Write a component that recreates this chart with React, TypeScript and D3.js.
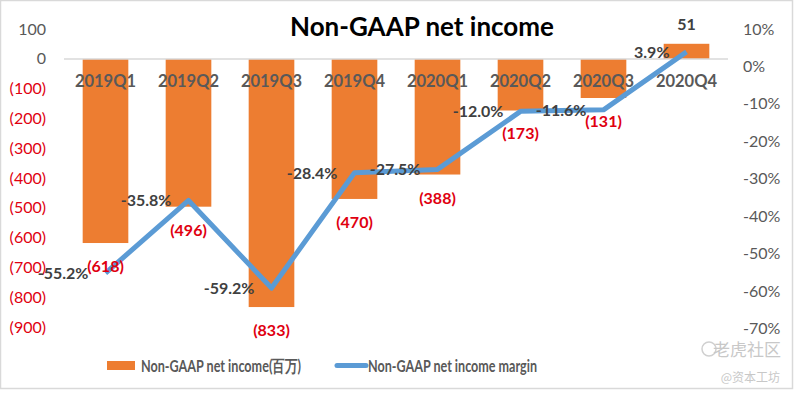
import React from "react";
import * as d3 from "d3";

const categories = ["2019Q1", "2019Q2", "2019Q3", "2019Q4", "2020Q1", "2020Q2", "2020Q3", "2020Q4"];
const netIncome = [-618, -496, -833, -470, -388, -173, -131, 51];
const margin = [-55.2, -35.8, -59.2, -28.4, -27.5, -12.0, -11.6, 3.9];
const leftTicks = [100, 0, -100, -200, -300, -400, -500, -600, -700, -800, -900];
const rightTicks = [10, 0, -10, -20, -30, -40, -50, -60, -70];

const W = 796;
const H = 393;
const FONT = "Lato, 'Open Sans', sans-serif";
const RED = "#E00010";

const fmtNum = (v: number) => (v < 0 ? `(${Math.abs(v)})` : `${v}`);

export default function App() {
  const x = d3.scaleBand<string>().domain(categories).range([64, 728]).paddingInner(0.45).paddingOuter(0.225);
  const yL = d3.scaleLinear().domain([100, -900]).range([29.2, 327]);
  const yR = d3.scaleLinear().domain([10, -70]).range([29, 328.5]);
  const cx = (c: string) => (x(c) as number) + x.bandwidth() / 2;
  const line = d3
    .line<number>()
    .x((_, i) => cx(categories[i]))
    .y((d) => yR(d));

  return (
    <svg width={W} height={H} style={{ position: "absolute", left: 0, top: 0, background: "#fff" }} fontFamily={FONT}>
      <rect x={0.5} y={0.5} width={W - 4} height={H - 5} fill="#fff" stroke="#D9D9D9" strokeWidth={1.5} />
      <text x={422} y={36} textAnchor="middle" fontSize={26} fontWeight={700} fill="#000">
        Non-GAAP net income
      </text>

      {leftTicks.map((t) => (
        <text key={t} x={46} y={yL(t) + 5.5} textAnchor="end" fontSize={16} fill={t < 0 ? RED : "#595959"}>
          {fmtNum(t)}
        </text>
      ))}
      {rightTicks.map((t) => (
        <text key={t} x={743} y={yR(t) + 5.5} textAnchor="start" fontSize={16} fill="#595959">
          {`${t}%`}
        </text>
      ))}

      {netIncome.map((v, i) => {
        const c = categories[i];
        const y0 = yL(0);
        const y1 = yL(v);
        return (
          <rect key={c} x={x(c)} y={Math.min(y0, y1)} width={x.bandwidth()} height={Math.abs(y1 - y0)} fill="#ED7D31" />
        );
      })}
      <line x1={64} x2={728} y1={yL(0)} y2={yL(0)} stroke="#D9D9D9" strokeWidth={1.5} />

      {categories.map((c) => (
        <text key={c} x={cx(c)} y={87} textAnchor="middle" fontSize={16.5} fontWeight={700} fill="#595959">
          {c}
        </text>
      ))}

      <path d={line(margin) || ""} fill="none" stroke="#5B9BD5" strokeWidth={5} strokeLinejoin="round" />

      {netIncome.map((v, i) => {
        const c = categories[i];
        const y = v < 0 ? yL(v) + 29 : yL(v) - 14;
        return (
          <text key={c} x={cx(c)} y={y} textAnchor="middle" fontSize={16} fontWeight={700} fill={v < 0 ? RED : "#404040"}>
            {fmtNum(v)}
          </text>
        );
      })}

      {margin.map((m, i) => {
        const c = categories[i];
        return (
          <text key={c} x={cx(c) - 17} y={yR(m) + 6} textAnchor="end" fontSize={16} fontWeight={700} fill="#404040">
            {`${m.toFixed(1)}%`}
          </text>
        );
      })}

      <rect x={107} y={361} width={28} height={9} fill="#ED7D31" />
      <text x={141} y={371.5} fontSize={17} fontWeight={700} fill="#595959" textLength={160} lengthAdjust="spacingAndGlyphs">
        Non-GAAP net income(百万)
      </text>
      <line x1={337} x2={366} y1={365.5} y2={365.5} stroke="#5B9BD5" strokeWidth={5} strokeLinecap="round" />
      <text x={368} y={371.5} fontSize={17} fontWeight={700} fill="#595959" textLength={169} lengthAdjust="spacingAndGlyphs">
        Non-GAAP net income margin
      </text>

      <circle cx={709} cy={349} r={7} fill="none" stroke="#D0D0D0" strokeWidth={1.5} />
      <text x={781} y={356} textAnchor="end" fontSize={17} fill="#C8C8C8" fontFamily="'Noto Sans CJK SC', sans-serif">
        老虎社区
      </text>
      <text x={780} y={382} textAnchor="end" fontSize={12} fill="#C8C8C8" fontFamily="'Noto Sans CJK SC', sans-serif">
        @资本工坊
      </text>
    </svg>
  );
}
